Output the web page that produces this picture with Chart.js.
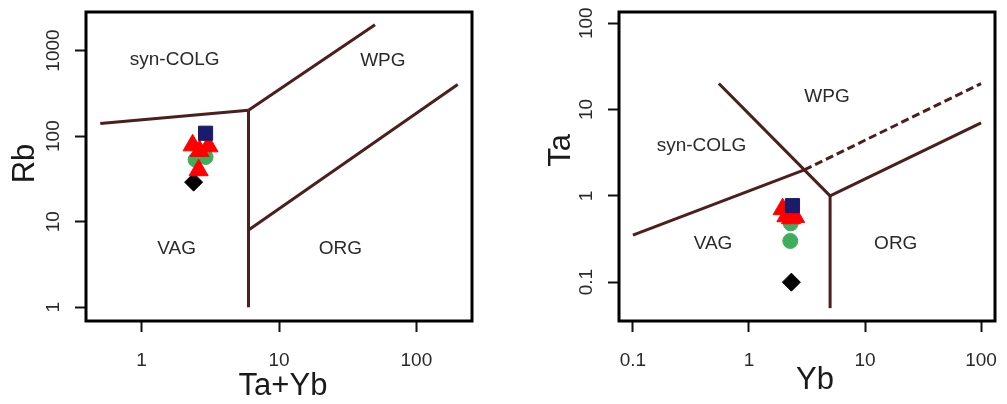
<!DOCTYPE html>
<html>
<head>
<meta charset="utf-8">
<script src="https://cdn.jsdelivr.net/npm/chart.js@4"></script>
<style>
  body { margin: 0; background: #fff; width: 1007px; height: 404px; overflow: hidden; position: relative; }
  canvas { position: absolute; top: 0; }
</style>
</head>
<body>
<canvas id="rbChart" width="500" height="404" style="left:0"></canvas>
<canvas id="taChart" width="487" height="404" style="left:520px"></canvas>
<script>
// ---- Rb vs (Ta+Yb) samples ----
const taYbSquare = [2.92];
const rbSquare = [108];
const taYbTriangle = [2.35, 3.07, 2.64, 2.6];
const rbTriangle = [78, 76, 67, 40];
const taYbCircle = [2.47, 2.92];
const rbCircle = [53, 57];
const taYbDiamond = [2.39];
const rbDiamond = [29];

// ---- Ta vs Yb samples ----
const ybSquare = [2.37];
const taSquare = [0.77];
const ybTriangle = [1.95, 2.1, 2.5, 2.3];
const taTriangle = [0.7, 0.58, 0.57, 0.55];
const ybCircle = [2.29, 2.27];
const taCircle = [0.48, 0.30];
const ybDiamond = [2.32];
const taDiamond = [0.1];

// field boundaries, Rb vs Ta+Yb
const colgVagTaYb = [0.5, 6];
const colgVagRb = [140, 200];
const colgWpgTaYb = [6, 50];
const colgWpgRb = [200, 2000];
const wpgOrgTaYb = [6, 200];
const wpgOrgRb = [8, 400];
const vagOrgTaYb = [6, 6];
const vagOrgRb = [1, 200];

// field boundaries, Ta vs Yb
const vagColgYb = [0.1, 3];
const vagColgTa = [0.35, 2];
const vagWpgYb = [3, 100];
const vagWpgTa = [2, 20];
const colgWpgYb = [0.55, 3, 5];
const colgWpgTa = [20, 2, 1];
const wpgOrgYb = [5, 100];
const wpgOrgTa = [1, 7];
const vagOrgYb = [5, 5];
const vagOrgTa = [0.05, 1];

// field names and where they sit
const fieldNames = ['syn-COLG', 'WPG', 'VAG', 'ORG'];
const fieldTaYb = [1.74, 57, 1.8, 28];
const fieldRb = [770, 760, 4.8, 4.8];
const fieldYb = [0.39, 4.7, 0.49, 18.4];
const fieldTa = [3.8, 14, 0.275, 0.275];

// tick values
const taYbTicks = [1, 10, 100];
const rbTicks = [1, 10, 100, 1000];
const ybTicks = [0.1, 1, 10, 100];
const taTicks = [0.1, 1, 10, 100];

const lineColor = '#4d1e1e';
const textColor = '#2a2a2a';
const fontFamily = '"Liberation Sans", Arial, sans-serif';

function pts(xs, ys) {
  return xs.map((x, i) => ({ x: x, y: ys[i] }));
}

function boundary(xs, ys, dash) {
  return {
    data: pts(xs, ys), showLine: true, pointRadius: 0,
    borderColor: lineColor, borderWidth: 3, borderDash: dash || [],
    order: 10
  };
}

function samples(xs, ys, style, color, r, order) {
  return {
    data: pts(xs, ys), showLine: false, pointStyle: style,
    pointRadius: r, pointHoverRadius: r,
    backgroundColor: color, borderColor: color, pointBorderWidth: 1,
    order: order
  };
}

// box, tick labels, axis titles and field names
const rPlot = {
  id: 'rPlot',
  afterDatasetsDraw(chart, args, o) {
    const ctx = chart.ctx;
    const a = chart.chartArea;
    const sx = chart.scales.x, sy = chart.scales.y;
    ctx.save();
    ctx.strokeStyle = '#000';
    ctx.lineWidth = 3;
    ctx.strokeRect(a.left, a.top, a.right - a.left, a.bottom - a.top);

    ctx.fillStyle = textColor;
    ctx.textAlign = 'center';
    ctx.textBaseline = 'middle';
    ctx.font = '19px ' + fontFamily;
    o.names.forEach((n, i) => {
      ctx.fillText(n, sx.getPixelForValue(o.nameX[i]), sy.getPixelForValue(o.nameY[i]));
    });

    o.xTicks.forEach(v => {
      ctx.fillText(String(v), sx.getPixelForValue(v), a.bottom + 40);
    });
    o.yTicks.forEach(v => {
      ctx.save();
      ctx.translate(a.left - 32, sy.getPixelForValue(v));
      ctx.rotate(-Math.PI / 2);
      ctx.fillText(String(v), 0, 0);
      ctx.restore();
    });

    ctx.fillStyle = '#1a1a1a';
    ctx.font = '31px ' + fontFamily;
    ctx.fillText(o.xTitle, (a.left + a.right) / 2 + o.xTitleDx, a.bottom + o.xTitleDy);
    ctx.translate(a.left - o.yTitleDx, (a.top + a.bottom) / 2 + o.yTitleDy);
    ctx.rotate(-Math.PI / 2);
    ctx.fillText(o.yTitle, 0, 0);
    ctx.restore();
  }
};

function logAxis(min, max, ticks, size, horizontal) {
  return {
    type: 'logarithmic',
    min: min, max: max,
    afterBuildTicks: s => { s.ticks = ticks.map(v => ({ value: v })); },
    afterFit: s => { if (horizontal) s.height = size; else s.width = size; },
    ticks: { display: false },
    border: { display: false },
    grid: { drawOnChartArea: false, drawTicks: true, tickLength: 11, tickWidth: 2, tickColor: '#111' }
  };
}

function makeChart(id, datasets, scales, padRight, plot) {
  return new Chart(document.getElementById(id), {
    type: 'scatter',
    data: { datasets: datasets },
    options: {
      responsive: false,
      animation: false,
      layout: { padding: { top: 8, right: padRight, bottom: 0, left: 0 } },
      scales: scales,
      plugins: { legend: { display: false }, tooltip: { enabled: false }, rPlot: plot }
    },
    plugins: [rPlot]
  });
}

makeChart('rbChart', [
  boundary(colgVagTaYb, colgVagRb),
  boundary(colgWpgTaYb, colgWpgRb),
  boundary(wpgOrgTaYb, wpgOrgRb),
  boundary(vagOrgTaYb, vagOrgRb),
  samples(taYbDiamond, rbDiamond, 'rectRot', '#000000', 9, 4),
  samples(taYbCircle, rbCircle, 'circle', '#3fae5c', 7.5, 3),
  samples(taYbTriangle, rbTriangle, 'triangle', '#ff0000', 11, 2),
  samples(taYbSquare, rbSquare, 'rect', '#1b1b6b', 10, 1)
], {
  x: logAxis(Math.pow(10, -0.405), Math.pow(10, 2.405), taYbTicks, 83, true),
  y: logAxis(Math.pow(10, -0.16), Math.pow(10, 3.45), rbTicks, 86, false)
}, 28, {
  names: fieldNames, nameX: fieldTaYb, nameY: fieldRb,
  xTicks: taYbTicks, yTicks: rbTicks,
  xTitle: 'Ta+Yb', xTitleDx: 4, xTitleDy: 65,
  yTitle: 'Rb', yTitleDx: 61, yTitleDy: -3
});

makeChart('taChart', [
  boundary(vagColgYb, vagColgTa),
  boundary(vagWpgYb, vagWpgTa, [8, 4]),
  boundary(colgWpgYb, colgWpgTa),
  boundary(wpgOrgYb, wpgOrgTa),
  boundary(vagOrgYb, vagOrgTa),
  samples(ybDiamond, taDiamond, 'rectRot', '#000000', 9, 4),
  samples(ybCircle, taCircle, 'circle', '#3fae5c', 7.5, 3),
  samples(ybTriangle, taTriangle, 'triangle', '#ff0000', 11, 2),
  samples(ybSquare, taSquare, 'rect', '#1b1b6b', 10, 1)
], {
  x: logAxis(Math.pow(10, -1.12), Math.pow(10, 2.12), ybTicks, 83, true),
  y: logAxis(Math.pow(10, -1.45), Math.pow(10, 2.13), taTicks, 99, false)
}, 2, {
  names: fieldNames, nameX: fieldYb, nameY: fieldTa,
  xTicks: ybTicks, yTicks: taTicks,
  xTitle: 'Yb', xTitleDx: 8, xTitleDy: 59,
  yTitle: 'Ta', yTitleDx: 58, yTitleDy: -16
});
</script>
</body>
</html>
